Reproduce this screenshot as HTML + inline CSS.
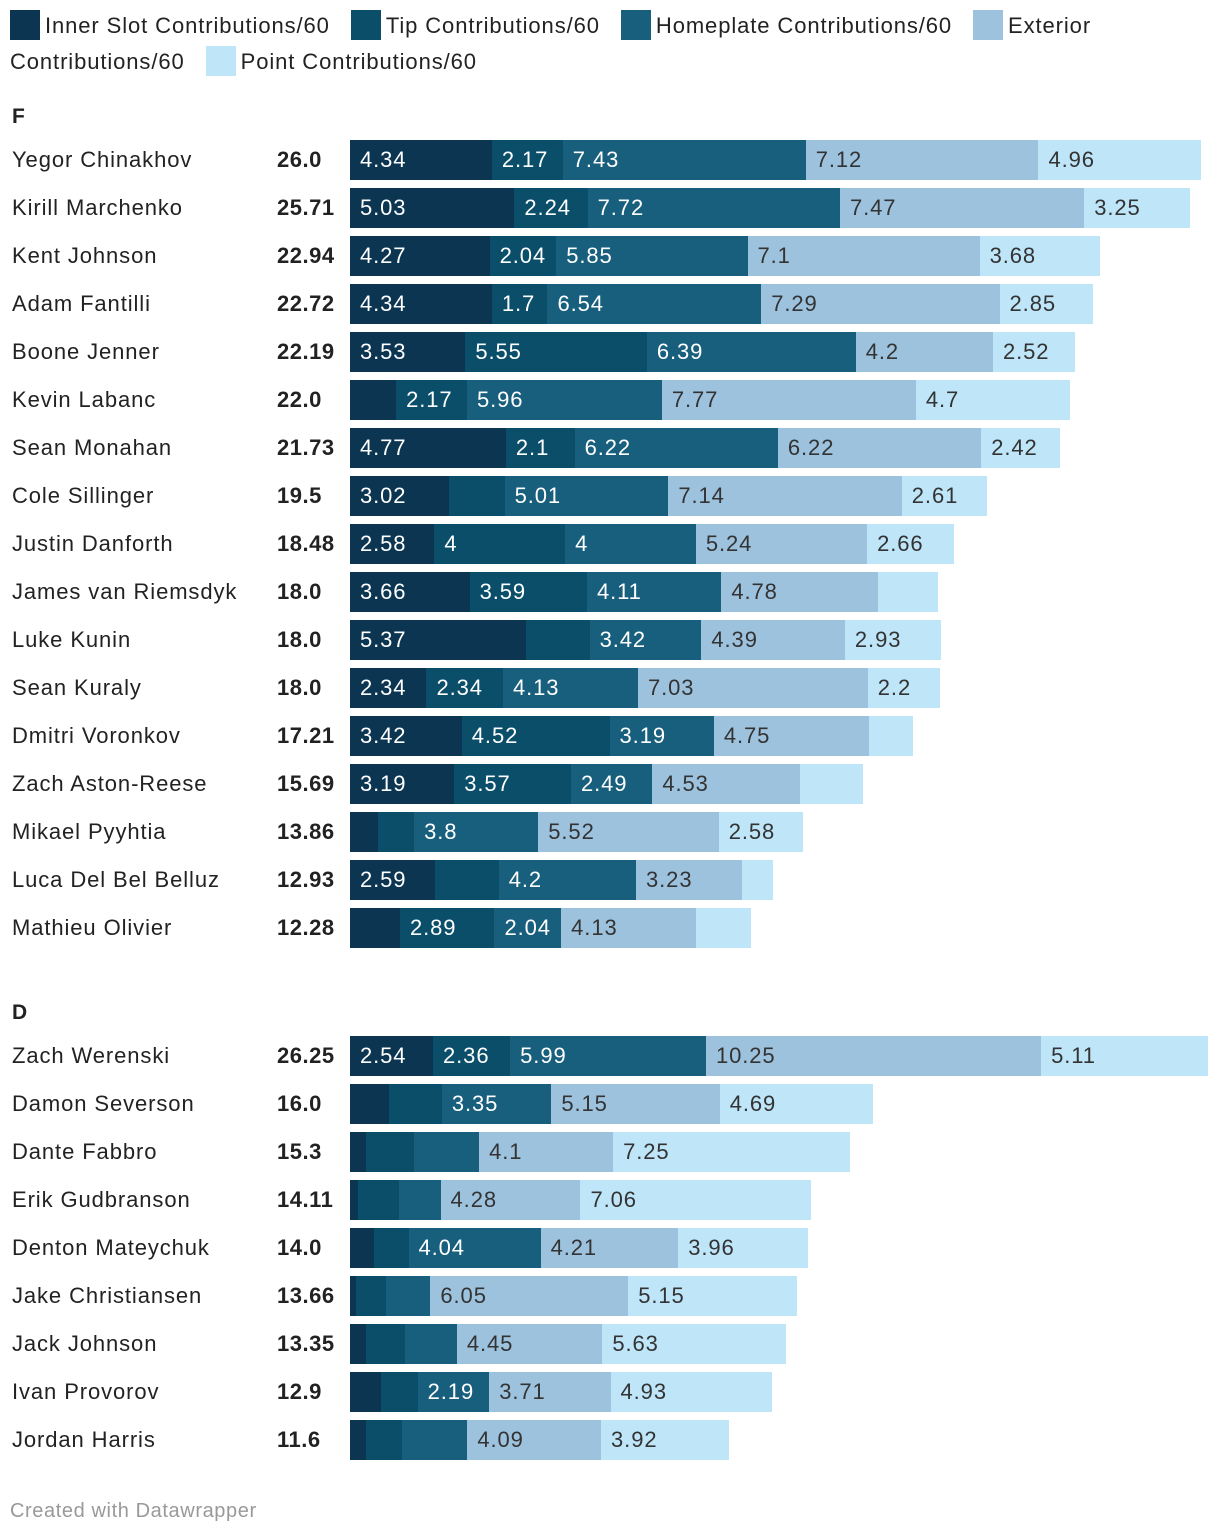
<!DOCTYPE html>
<html><head><meta charset="utf-8">
<style>
body{margin:0;background:#fff;font-family:"Liberation Sans",Roboto,sans-serif;color:#222;letter-spacing:0.9px;}
#wrap{position:relative;width:1220px;height:1538px;overflow:hidden;}
.leg{position:absolute;font-size:22px;line-height:36px;left:10px;top:8px;width:1200px;}
.sw{display:inline-block;width:30px;height:30px;vertical-align:-7px;margin-right:5px;}
.li{margin-right:14px;white-space:nowrap;}
.sec{position:absolute;left:12px;font-weight:bold;font-size:21px;}
.name{position:absolute;left:12px;font-size:22px;height:40px;line-height:40px;}
.tot{position:absolute;left:277px;font-size:22px;font-weight:bold;height:40px;line-height:40px;letter-spacing:0.5px;}
.seg{position:absolute;height:40px;}
.lab{position:absolute;font-size:22px;line-height:40px;height:40px;white-space:nowrap;}
.foot{position:absolute;left:10px;top:1500px;font-size:20px;color:#999;letter-spacing:0.6px;}
</style></head><body>
<div id="wrap">
<div class="leg">
<span class="li"><span class="sw" style="background:#0b3550"></span>Inner Slot Contributions/60</span>
<span class="li"><span class="sw" style="background:#0a4e6a"></span>Tip Contributions/60</span>
<span class="li"><span class="sw" style="background:#185f7d"></span>Homeplate Contributions/60</span>
<span style="margin-right:14px"><span class="sw" style="background:#9dc2de"></span>Exterior Contributions/60</span>
<span class="li"><span class="sw" style="background:#bfe5f9"></span>Point Contributions/60</span>
</div>
<div class="sec" style="top:105px">F</div>
<div class="sec" style="top:1001px">D</div>
<div class="foot">Created with Datawrapper</div>
</div>
<script>
const namesF=["Yegor Chinakhov","Kirill Marchenko","Kent Johnson","Adam Fantilli","Boone Jenner","Kevin Labanc","Sean Monahan","Cole Sillinger","Justin Danforth","James van Riemsdyk","Luke Kunin","Sean Kuraly","Dmitri Voronkov","Zach Aston-Reese","Mikael Pyyhtia","Luca Del Bel Belluz","Mathieu Olivier"];
const totalsF=["26.0","25.71","22.94","22.72","22.19","22.0","21.73","19.5","18.48","18.0","18.0","18.0","17.21","15.69","13.86","12.93","12.28"];
const innerF=[4.34,5.03,4.27,4.34,3.53,1.41,4.77,3.02,2.58,3.66,5.37,2.34,3.42,3.19,0.86,2.59,1.53];
const tipF=[2.17,2.24,2.04,1.7,5.55,2.17,2.1,1.71,4,3.59,1.96,2.34,4.52,3.57,1.1,1.96,2.89];
const homeF=[7.43,7.72,5.85,6.54,6.39,5.96,6.22,5.01,4,4.11,3.42,4.13,3.19,2.49,3.8,4.2,2.04];
const extF=[7.12,7.47,7.1,7.29,4.2,7.77,6.22,7.14,5.24,4.78,4.39,7.03,4.75,4.53,5.52,3.23,4.13];
const pointF=[4.96,3.25,3.68,2.85,2.52,4.7,2.42,2.61,2.66,1.86,2.93,2.2,1.33,1.91,2.58,0.95,1.69];
const namesD=["Zach Werenski","Damon Severson","Dante Fabbro","Erik Gudbranson","Denton Mateychuk","Jake Christiansen","Jack Johnson","Ivan Provorov","Jordan Harris"];
const totalsD=["26.25","16.0","15.3","14.11","14.0","13.66","13.35","12.9","11.6"];
const innerD=[2.54,1.2,0.49,0.25,0.72,0.18,0.5,0.94,0.5];
const tipD=[2.36,1.61,1.47,1.24,1.07,0.92,1.17,1.13,1.1];
const homeD=[5.99,3.35,1.99,1.28,4.04,1.36,1.6,2.19,1.99];
const extD=[10.25,5.15,4.1,4.28,4.21,6.05,4.45,3.71,4.09];
const pointD=[5.11,4.69,7.25,7.06,3.96,5.15,5.63,4.93,3.92];

const X0=350, PX=32.69;
const x=v=>v*PX;
const colors=["#0b3550","#0a4e6a","#185f7d","#9dc2de","#bfe5f9"];
const txt=["#fff","#fff","#fff","#333","#333"];
const segNames=["inner-slot","tip","homeplate","exterior","point"];
const wrap=document.getElementById('wrap');
function fmt(v){return String(+v.toFixed(2));}
function draw(names,totals,series,top){
  names.forEach((n,i)=>{
    const y=top+i*48;
    const nm=document.createElement('div');nm.className='name';nm.style.top=y+'px';nm.textContent=n;
    
    
    wrap.appendChild(nm);
    const t=document.createElement('div');t.className='tot';t.style.top=y+'px';t.textContent=totals[i];
    
    
    wrap.appendChild(t);
    let acc=0;
    series.forEach((s,k)=>{
      const v=s[i];const left=X0+x(acc);const w=x(v);
      const d=document.createElement('div');d.className='seg';
      d.style.left=left+'px';d.style.top=y+'px';d.style.width=w+'px';d.style.background=colors[k];
      
      
      wrap.appendChild(d);
      const label=fmt(v);
      if(label.length*12+18<=w){
        const l=document.createElement('div');l.className='lab';
        l.style.left=(left+10)+'px';l.style.top=y+'px';l.style.color=txt[k];l.textContent=label;
        
        
        wrap.appendChild(l);
      }
      acc+=v;
    });
  });
}
draw(namesF,totalsF,[innerF,tipF,homeF,extF,pointF],140);
draw(namesD,totalsD,[innerD,tipD,homeD,extD,pointD],1036);
</script>
</body></html>
